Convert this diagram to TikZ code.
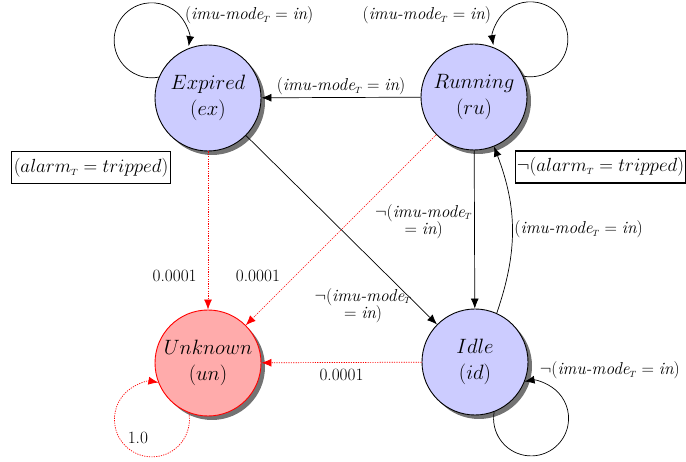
\RequirePackage{fix-cm}
\documentclass[tikz,border=0pt]{standalone}
\usetikzlibrary{arrows.meta,shadows}
\newcommand{\subT}{_{\hbox{\fontsize{9}{9}\selectfont$T$}}}
\newcommand{\imuT}{\textit{imu-mode}\subT}
\begin{document}
\begin{tikzpicture}[x=1pt,y=1pt,
  state/.style={circle, draw=black, line width=0.9pt, fill=blue!20, minimum size=106pt, inner sep=0pt, align=center,
    font=\fontsize{20.74}{26}\selectfont,
    drop shadow={shadow xshift=4pt, shadow yshift=-4pt, fill=black!55, opacity=1}},
  badstate/.style={state, draw=red, fill=red!33},
  arr/.style={-{Latex[length=10pt,width=8pt]}, line width=0.7pt},
  redarr/.style={-{Latex[length=10pt,width=8pt]}, line width=0.7pt, red, dash pattern=on 1.2pt off 1.2pt},
  lbl/.style={font=\fontsize{17.28}{17.5}\selectfont, text=black, inner sep=2pt, align=center},
  guard/.style={draw, line width=1.1pt, font=\fontsize{19}{21}\selectfont, inner xsep=2.5pt, inner ysep=3pt, minimum height=32pt}
]
\useasboundingbox (0,0) rectangle (686,462);
\node[state] (ex) at (208,364) {$Expired$\\$(ex)$};
\node[state] (ru) at (474,365) {$Running$\\$(ru)$};
\node[badstate] (un) at (208,99) {$Unknown$\\$(un)$};
\node[state] (id) at (475,100) {$Idle$\\$(id)$};

\node[guard] (g1) at (91,294.5) {$(alarm\subT = tripped)$};
\node[guard, inner xsep=1pt] (g2) at (600.5,295) {$\neg(alarm\subT = tripped)$};

% self loops
\draw[arr] (ex.157) arc[start angle=-79, end angle=-369, radius=37.5]
  node[lbl, pos=1, anchor=west, xshift=-6pt, yshift=31pt] {$(\imuT = \textit{in})$};
\draw[arr] (ru.23) arc[start angle=259, end angle=549, radius=37.5]
  node[lbl, pos=1, anchor=east, yshift=30pt] {$(\imuT = \textit{in})$};
\draw[arr] (id.-69) arc[start angle=170, end angle=460, radius=37.5]
  node[lbl, pos=1, anchor=south west, xshift=13pt] {$\neg(\imuT = \textit{in})$};
\draw[redarr] (un.-111) arc[start angle=10, end angle=-280, radius=37.5]
  node[lbl, pos=0.5, anchor=south west] {1.0};

% transitions
\draw[arr] (ru) -- node[lbl, above] {$(\imuT = \textit{in})$} (ex);
\draw[arr] (ru) -- node[lbl, left, pos=0.45] {$\neg(\imuT$\\$= \textit{in})$} (id);
\draw[arr] (id.66) to[bend right=20] node[lbl, right] {$(\imuT = \textit{in})$} (ru.-68);
\draw[arr] (ex) -- node[lbl, pos=0.9, left=4pt] {$\neg(\imuT$\\$= \textit{in})$} (id);

\draw[redarr] (ex) -- node[lbl, pos=0.79, left=9pt] {0.0001} (un);
\draw[redarr] (ru) -- node[lbl, pos=0.74, left=13pt] {0.0001} (un);
\draw[redarr] (id) -- node[lbl, below=4pt] {0.0001} (un);
\end{tikzpicture}
\end{document}
